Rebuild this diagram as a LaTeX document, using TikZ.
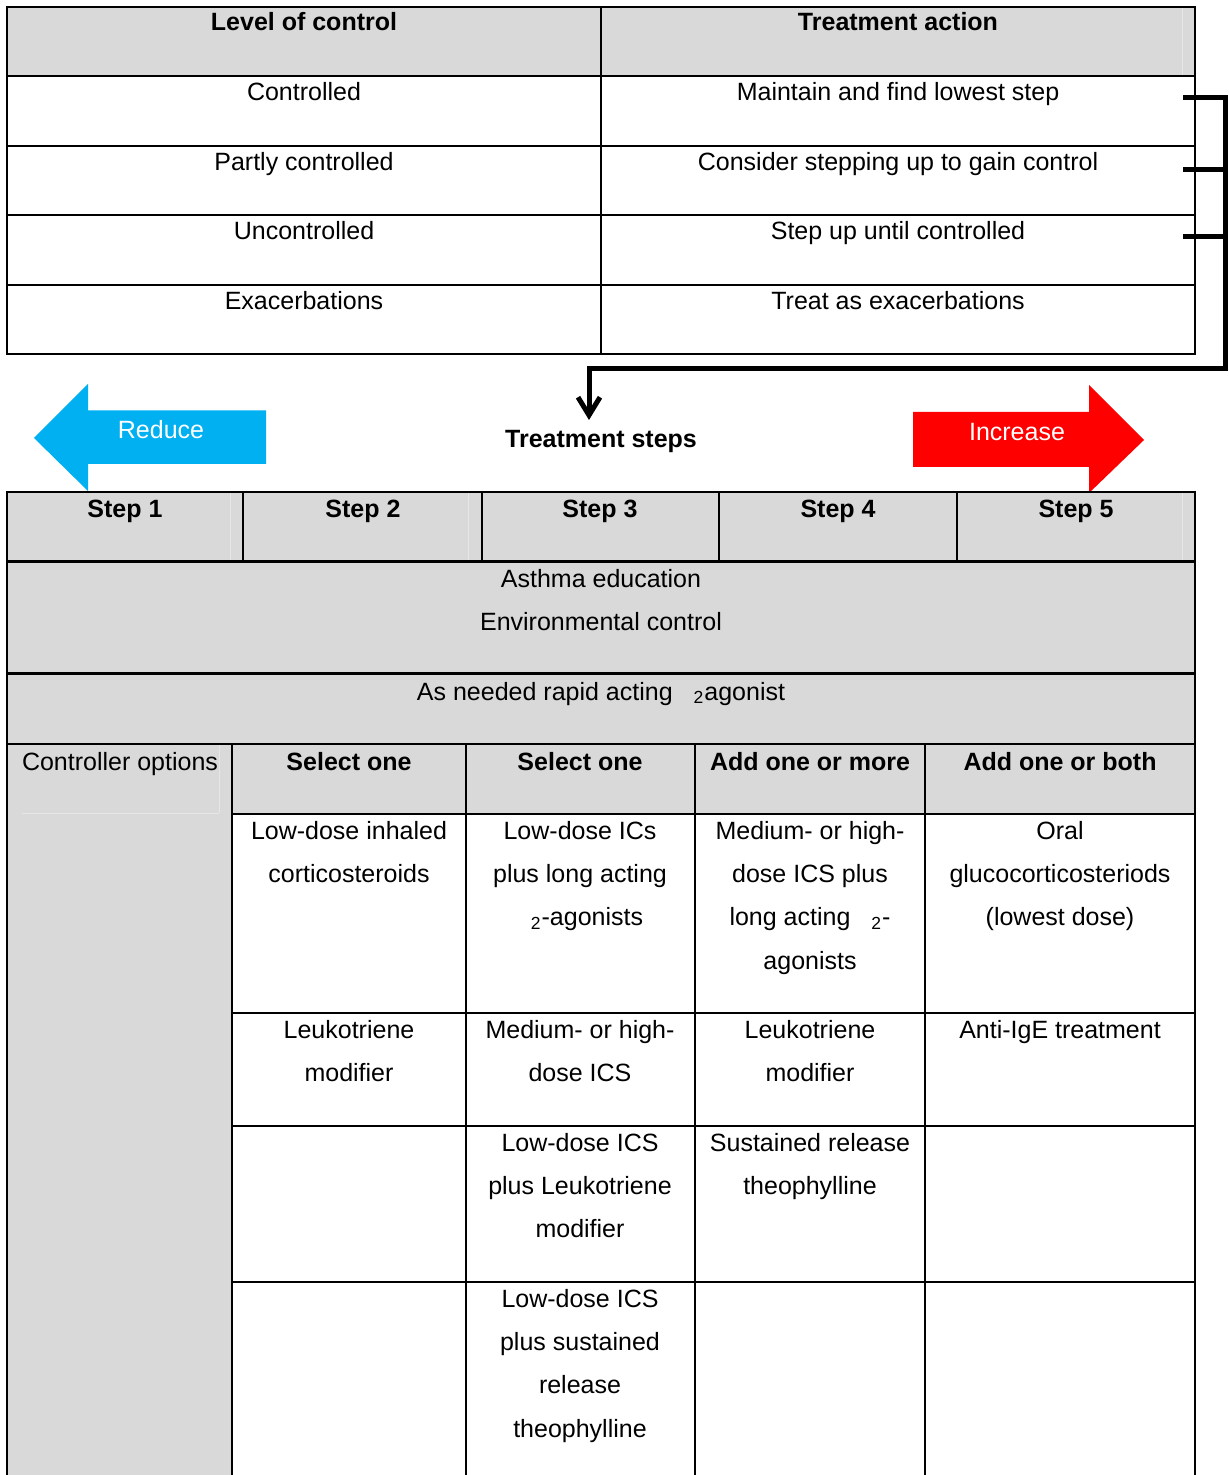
\documentclass[tikz,border=0pt]{standalone}
\usepackage{fontspec}
\setmainfont{Liberation Sans}
\usetikzlibrary{arrows.meta}
\definecolor{cellgrey}{HTML}{D9D9D9}
\definecolor{stripgrey}{HTML}{E6E6E6}
\definecolor{reduceblue}{HTML}{00B0F0}
\definecolor{increasered}{HTML}{FF0000}
% centred multi-line cell text whose baseline is its first line
\newcommand{\celltext}[1]{\parbox[t]{150pt}{\centering #1}}
% blank space left where the beta glyph would sit
\newcommand{\blank}{\hspace{7pt}}
\newcommand{\sub}[1]{\textsubscript{#1}}
\tikzset{
  grid/.style={line width=0.9pt},
  strip/.style={stripgrey, line width=0.5pt},
  bracket/.style={line width=2.5pt},
  txt/.style={anchor=base, inner sep=0pt, font=\fontsize{12.5}{21.7}\selectfont},
  head/.style={txt, font=\fontsize{12.5}{21.7}\selectfont\bfseries},
}
\begin{document}
\begin{tikzpicture}[x=0.5pt, y=-0.5pt]
\useasboundingbox (0,0) rectangle (1228,1475);

% ---------- level of control table ----------
\fill[cellgrey] (7,7) rectangle (1195,76);
\draw[strip] (1182,8) -- (1182,75);
\draw[grid] (7,7) rectangle (1195,354);
\foreach \yy in {76,146,215,285} \draw[grid] (7,\yy) -- (1195,\yy);
\draw[grid] (601,7) -- (601,354);

\node[head] (lvlhead) at (304,31) {Level of control};
\node[head] (acthead) at (898,31) {Treatment action};
\node[txt] (lvl1) at (304,101) {Controlled};
\node[txt] (act1) at (898,101) {Maintain and find lowest step};
\node[txt] (lvl2) at (304,171) {Partly controlled};
\node[txt] (act2) at (898,171) {Consider stepping up to gain control};
\node[txt] (lvl3) at (304,240) {Uncontrolled};
\node[txt] (act3) at (898,240) {Step up until controlled};
\node[txt] (lvl4) at (304,310) {Exacerbations};
\node[txt] (act4) at (898,310) {Treat as exacerbations};

% ---------- bracket leading down to the treatment steps ----------
\coordinate (b1) at (1183,98);
\coordinate (b2) at (1183,170);
\coordinate (b3) at (1183,236.5);
\coordinate (corner) at (1225,369);
\coordinate (drop) at (589,369);
\coordinate (tip) at (589,420);
\draw[bracket, line join=miter, -{Straight Barb[length=9pt,width=11pt]}]
  (b1) -| (corner) -- (drop) -- (tip);
\draw[bracket] (b2) -- (b2 -| corner);
\draw[bracket] (b3) -- (b3 -| corner);

% ---------- reduce / increase arrows ----------
\fill[reduceblue] (34,438) -- (88,384) -- (88,410.5) -- (266,410.5)
  -- (266,464) -- (88,464) -- (88,491) -- cycle;
\fill[increasered] (913,412) -- (1089,412) -- (1089,385) -- (1144,440)
  -- (1089,493) -- (1089,467) -- (913,467) -- cycle;
\node[txt, text=white] (reduce) at (161,439) {Reduce};
\node[txt, text=white] (increase) at (1017,441) {Increase};
\node[head] (steps) at (601,448) {Treatment steps};

% ---------- step header ----------
\filldraw[grid, fill=cellgrey] (7,492) rectangle (1195,561);
\foreach \xx in {230,468,1182} \draw[strip] (\xx,493) -- (\xx,560);
\foreach \xx in {243,482,719,957} \draw[grid] (\xx,492) -- (\xx,561);
\node[head] (s1) at (125,517) {Step 1};
\node[head] (s2) at (363,517) {Step 2};
\node[head] (s3) at (600,517) {Step 3};
\node[head] (s4) at (838,517) {Step 4};
\node[head] (s5) at (1076,517) {Step 5};

% ---------- shared rows ----------
\filldraw[grid, fill=cellgrey] (7,562.5) rectangle (1195,673);
\node[txt] (educ) at (601,587) {\celltext{Asthma education\\Environmental control}};
\filldraw[grid, fill=cellgrey] (7,674.5) rectangle (1195,744);
\node[txt] (rapid) at (601,700) {As needed rapid acting \blank\sub{2}agonist};

% ---------- controller options ----------
\fill[cellgrey] (7,744) rectangle (232,1475);
\fill[cellgrey] (232,744) rectangle (1195,814);
\draw[strip] (22,813) -- (219,813) (219,745) -- (219,813);
\draw[grid] (7,744) -- (1195,744);
\draw[grid] (7,744) -- (7,1475);
\draw[grid] (1195,744) -- (1195,1475);
\foreach \xx in {232,466,695,925} \draw[grid] (\xx,744) -- (\xx,1475);
\foreach \yy in {814,1013,1126,1282} \draw[grid] (232,\yy) -- (1195,\yy);

\node[txt] (ctrl) at (120,770) {Controller options};
\node[head] (h1) at (349,770) {Select one};
\node[head] (h2) at (580,770) {Select one};
\node[head] (h3) at (810,770) {Add one or more};
\node[head] (h4) at (1060,770) {Add one or both};

\node[txt] (r1c1) at (349,839) {\celltext{Low-dose inhaled\\corticosteroids}};
\node[txt] (r1c2) at (580,839) {\celltext{Low-dose ICs\\plus long acting\\\blank\sub{2}-agonists}};
\node[txt] (r1c3) at (810,839) {\celltext{Medium- or high-\\dose ICS plus\\long acting \blank\sub{2}-\\agonists}};
\node[txt] (r1c4) at (1060,839) {\celltext{Oral\\glucocorticosteriods\\(lowest dose)}};

\node[txt] (r2c1) at (349,1038) {\celltext{Leukotriene\\modifier}};
\node[txt] (r2c2) at (580,1038) {\celltext{Medium- or high-\\dose ICS}};
\node[txt] (r2c3) at (810,1038) {\celltext{Leukotriene\\modifier}};
\node[txt] (r2c4) at (1060,1038) {Anti-IgE treatment};

\node[txt] (r3c2) at (580,1151) {\celltext{Low-dose ICS\\plus Leukotriene\\modifier}};
\node[txt] (r3c3) at (810,1151) {\celltext{Sustained release\\theophylline}};

\node[txt] (r4c2) at (580,1307) {\celltext{Low-dose ICS\\plus sustained\\release\\theophylline}};
\end{tikzpicture}
\end{document}
